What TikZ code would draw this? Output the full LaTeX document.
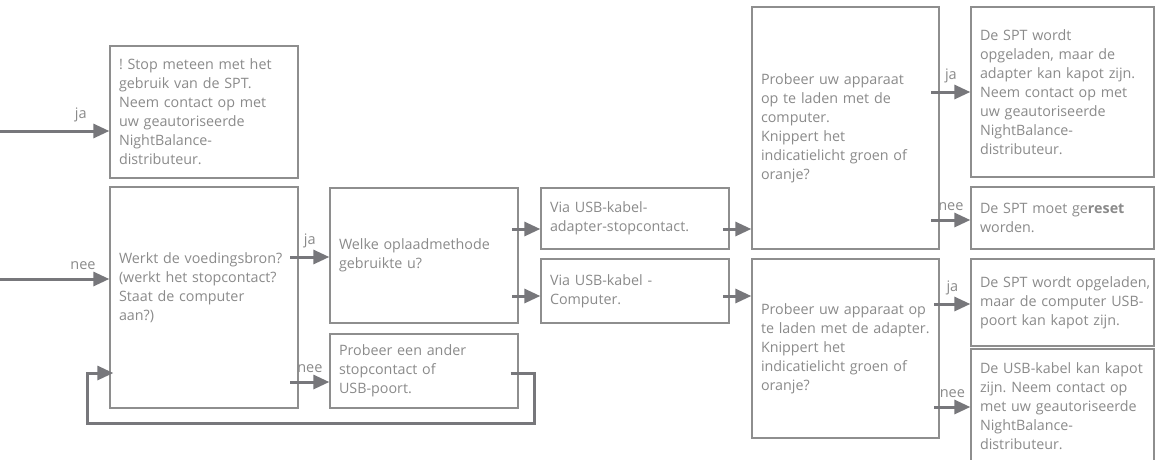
\documentclass[tikz,border=0pt]{standalone}
\usepackage{fontspec}
\setmainfont{Open Sans}
\frenchspacing
\usetikzlibrary{arrows.meta}

\definecolor{lijn}{HTML}{77777B}
\definecolor{kader}{HTML}{8E8E8E}
\definecolor{tekst}{HTML}{8A8A8A}

\begin{document}
\begin{tikzpicture}[
    x=1pt, y=-1pt,
    every node/.style={text=tekst, font=\fontsize{14.3}{19}\selectfont},
    vak/.style 2 args={draw=kader, line width=1.3pt, inner xsep=9pt, inner ysep=0pt,
      align=left, text width=#1pt-18pt, minimum width=#1pt, minimum height=#2pt,
      execute at begin node={\rightskip=0pt plus 1fil minus 40pt\relax}},
    pijl/.style={draw=lijn, line width=3pt, {Triangle[length=16pt,width=14pt]}-},
    lbl/.style={above=8pt, inner sep=0pt, font=\fontsize{14.5}{17}\selectfont}
    ]
    \clip (0,0) rectangle (1155,459);
    % first column
    \node[vak={188}{132}] (stop) at (204,112) {! Stop meteen met het\\ gebruik van de SPT.\\ Neem contact op met\\ uw geautoriseerde\\ NightBalance-\\ distributeur.};
    \node[vak={188}{221}, text depth=79pt] (werkt) at (204,297.5) {Werkt de voedingsbron?\\ (werkt het stopcontact?\\ Staat de computer\\ aan?)};
    % second column
    \node[vak={188}{135}] (methode) at (424,255.5) {Welke oplaadmethode\\ gebruikte u?};
    \node[vak={188}{74}] (ander) at (424,371) {Probeer een ander\\ stopcontact of\\ USB-poort.};
    % third column
    \node[vak={188}{61}] (viaadapter) at (635,218.5) {Via USB-kabel-\\ adapter-stopcontact.};
    \node[vak={188}{64}] (viapc) at (635,291) {Via USB-kabel -\\ Computer.};
    % fourth column
    \node[vak={187}{242}] (testpc) at (845.5,128) {Probeer uw apparaat\\ op te laden met de\\ computer.\\ Knippert het\\ indicatielicht groen of\\ oranje?};
    \node[vak={187}{179}] (testadapter) at (845.5,348.5) {Probeer uw apparaat op\\ te laden met de adapter.\\ Knippert het\\ indicatielicht groen of\\ oranje?};
    % last column
    \node[vak={183}{170}] (adapterkapot) at (1062.5,92) {De SPT wordt\\ opgeladen, maar de\\ adapter kan kapot zijn.\\ Neem contact op met\\ uw geautoriseerde\\ NightBalance-\\ distributeur.};
    \node[vak={183}{62}] (reset) at (1062.5,218) {De SPT moet ge\textbf{reset}\\ worden.};
    \node[vak={183}{87}] (poortkapot) at (1062.5,302.5) {De SPT wordt opgeladen,\\ maar de computer USB-\\ poort kan kapot zijn.};
    \node[vak={183}{114}] (kabelkapot) at (1062.5,406) {De USB-kabel kan kapot\\ zijn. Neem contact op\\ met uw geautoriseerde\\ NightBalance-\\ distributeur.};

    % arrows, drawn back from the box they point at
    \draw[pijl] ([yshift=-19pt]stop.west) -- node[lbl, pos=0.26]{ja} ++(-110,0);
    \draw[pijl] ([yshift=18.5pt]werkt.west) -- node[lbl, pos=0.24]{nee} ++(-110,0);
    \draw[pijl] ([yshift=-1.5pt]methode.west) -- node[lbl]{ja} ++(-39,0);
    \draw[pijl] ([yshift=-11pt]ander.west) -- node[lbl]{nee} ++(-39,0);
    \draw[pijl] ([yshift=-10.5pt]viaadapter.west) -- ++(-28,0);
    \draw[pijl] ([yshift=-5pt]viapc.west) -- ++(-28,0);
    \draw[pijl] ([yshift=-101pt]testpc.west) -- ++(-28,0);
    \draw[pijl] ([yshift=52.5pt]testadapter.west) -- ++(-28,0);
    \draw[pijl] (adapterkapot.west) -- node[lbl]{ja} ++(-39,0);
    \draw[pijl] ([yshift=-2pt]reset.west) -- node[lbl]{nee} ++(-39,0);
    \draw[pijl] ([yshift=-1.5pt]poortkapot.west) -- node[lbl]{ja} ++(-36,0);
    \draw[pijl] ([yshift=-1pt]kabelkapot.west) -- node[lbl]{nee} ++(-36,0);
    % back to the first question
    \draw[pijl, -{Triangle[length=16pt,width=14pt]}] ([xshift=-8pt,yshift=-2pt]ander.east)
      -- ++(24,0) -- ++(0,50) -| ++(-447,-50) -- ([xshift=4pt,yshift=-75.5pt]werkt.west);
  \end{tikzpicture}
\end{document}
